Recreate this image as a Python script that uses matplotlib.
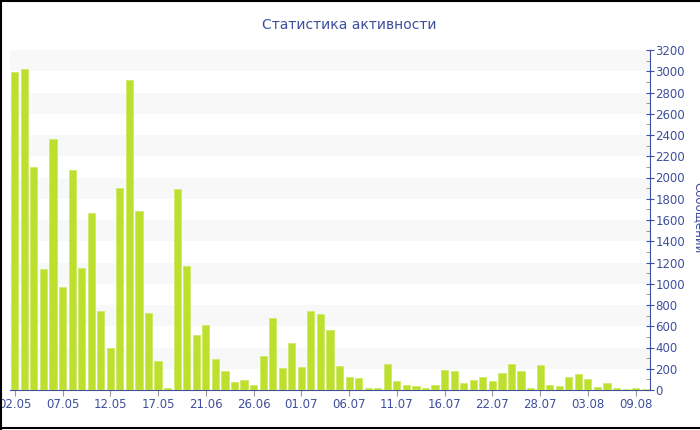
import matplotlib
matplotlib.use("Agg")
import matplotlib.pyplot as plt
from matplotlib.lines import Line2D

# данные: сообщений по дням
values = [2990, 3024, 2096, 1142, 2362, 969, 2067, 1145, 1666, 746,
          392, 1904, 2914, 1684, 722, 276, 19, 1889, 1170, 518,
          609, 292, 176, 76, 94, 44, 323, 674, 204, 439,
          216, 743, 715, 561, 229, 119, 113, 19, 19, 242,
          82, 50, 35, 16, 47, 191, 182, 69, 94, 122,
          82, 163, 248, 179, 22, 235, 44, 35, 125, 154,
          104, 28, 63, 19, 9, 19, 13]
tick_labels = ['02.05', '07.05', '12.05', '17.05', '21.06', '26.06', '01.07',
               '06.07', '11.07', '16.07', '22.07', '28.07', '03.08', '09.08']
tick_step = 5

blue = '#3e4f9e'
bar_color = '#bde02f'

fig = plt.figure(figsize=(7, 4.3), dpi=100)
ax = fig.add_axes([10/700, 40/430, 640/700, 340/430])

x = list(range(len(values)))
ax.bar(x, values, width=0.75, color=bar_color, edgecolor='#cfe96a', linewidth=0.6, zorder=3)

# полосы фона
for lo in range(200, 3200, 400):
    ax.axhspan(lo, lo + 200, color='#f8f8f8', zorder=0, lw=0)

ax.set_xlim(-0.5, len(values) - 0.5)
ax.set_ylim(0, 3200)

ax.set_xticks(x[::tick_step])
ax.set_xticklabels(tick_labels)
ax.set_yticks(range(0, 3201, 200))
ax.set_yticks(range(100, 3200, 200), minor=True)

ax.yaxis.tick_right()
ax.tick_params(axis='y', which='major', direction='inout', length=6, color=blue,
               labelcolor=blue, labelsize=8.5, pad=1)
ax.tick_params(axis='y', which='minor', direction='in', length=3, color='#888888')
ax.tick_params(axis='x', which='major', direction='out', length=4, color='#999999',
               labelcolor=blue, labelsize=8.5, pad=2)

for s in ['top', 'left']:
    ax.spines[s].set_visible(False)
ax.spines['right'].set_color(blue)
ax.spines['bottom'].set_color(blue)

fig.text(349/700, 1 - 25/430, 'Статистика активности', ha='center', va='center',
         color=blue, fontsize=10)
fig.text(699/700, 1 - 218/430, 'Сообщений', rotation=-90, ha='center', va='center',
         color=blue, fontsize=8.5)

# рамка
fig.add_artist(Line2D([0, 1], [1 - 0.5/430, 1 - 0.5/430], color='black', lw=1.5, transform=fig.transFigure))
fig.add_artist(Line2D([0.5/700, 0.5/700], [0, 1], color='black', lw=1.5, transform=fig.transFigure))
fig.add_artist(Line2D([0, 1], [2/430, 2/430], color='black', lw=1.5, transform=fig.transFigure))

fig.savefig('out.png', dpi=100)
